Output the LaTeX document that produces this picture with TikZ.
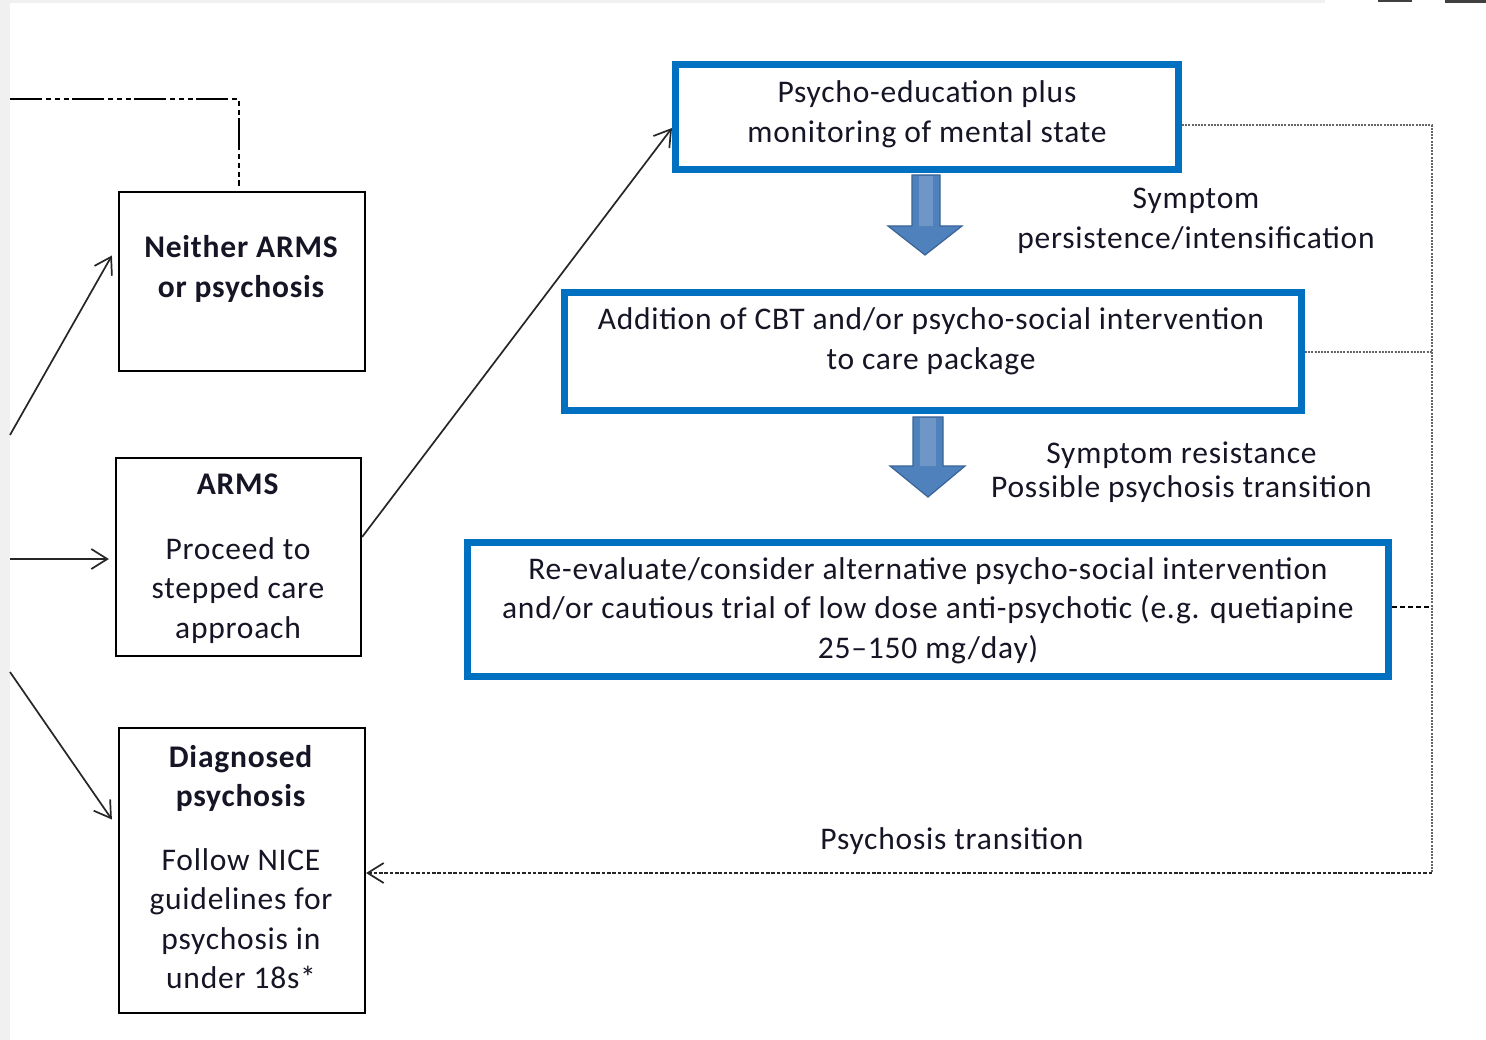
\documentclass[tikz,border=0pt]{standalone}
\usepackage{fontspec}
\setmainfont{Carlito}[LetterSpace=2.5]
\usetikzlibrary{arrows.meta}
\definecolor{boxblue}{HTML}{0070C0}
\definecolor{arrblue}{HTML}{4F81BD}
\definecolor{arredge}{HTML}{3A6496}
\definecolor{strip}{HTML}{F0F0F0}
\definecolor{txtc}{HTML}{151525}
\begin{document}
\begin{tikzpicture}[x=1pt,y=-1pt,
  blk/.style={draw=black, line width=2.2pt, inner sep=0pt},
  bbox/.style={draw=boxblue, line width=7pt, inner sep=0pt},
  txt/.style={align=center, inner sep=0pt, text=txtc, font=\fontsize{31.5}{39.5}\selectfont},
  btxt/.style={txt, font=\fontsize{31.5}{39.5}\selectfont\bfseries},
  arr/.style={draw=black!85, line width=1.7pt, -{Straight Barb[length=16pt,width=20pt,line width=1.7pt]}},
  dashdotdot/.style={draw=black, line width=2.6pt, dash pattern=on 32pt off 4pt on 5pt off 4pt on 5pt off 4pt on 5pt off 3pt},
  dotl/.style={draw=black!60, line width=1.8pt, dash pattern=on 2pt off 1.2pt},
  dashl/.style={draw=black, line width=1.7pt, dash pattern=on 5pt off 3pt},
  dasharr/.style={draw=black!85, line width=1.7pt, dash pattern=on 3.5pt off 1.8pt, -{Straight Barb[length=16pt,width=20pt,line width=1.7pt]}},
  barrow/.style={fill=arrblue, draw=arredge, line width=1.2pt, line join=miter}
]
\useasboundingbox (0,0) rectangle (1486,1040);
\fill[white] (0,0) rectangle (1486,1040);
% screen strips
\fill[strip] (0,0) rectangle (10,1040);
\fill[strip] (10,0) rectangle (1325,3);
\fill[black!75] (1378,0) rectangle (1412,2);
\fill[black!75] (1445,0) rectangle (1486,3);

% left boxes
\node[blk, minimum width=246pt, minimum height=179pt] (neither) at (242,281.5) {};
\node[blk, minimum width=245pt, minimum height=198pt] (arms) at (238.5,557) {};
\node[blk, minimum width=246pt, minimum height=285pt] (diag) at (242,870.5) {};

\node[btxt] at (241,269) {Neither ARMS\\or psychosis};
\node[txt] at (238,558.5) {\textbf{ARMS}\\[25pt]Proceed to\\stepped care\\approach};
\node[txt] at (241,867) {\textbf{Diagnosed}\\\textbf{psychosis}\\[24pt]Follow NICE\\guidelines for\\psychosis in\\under 18s*};

% blue boxes
\node[bbox, minimum width=503pt, minimum height=105pt] (box1) at (927,117) {};
\node[bbox, minimum width=737pt, minimum height=118pt] (box2) at (933,351.5) {};
\node[bbox, minimum width=921pt, minimum height=134pt] (box3) at (928,609.5) {};

\node[txt] at (927,114.5) {Psycho-education plus\\monitoring of mental state};
\node[txt] at (931,341.5) {Addition of CBT and/or psycho-social intervention\\to care package};
\node[txt] at (928,610.5) {Re-evaluate/consider alternative psycho-social intervention\\and/or cautious trial of low dose anti-psychotic (e.g. quetiapine\\25--150 mg/day)};

% labels
\node[txt] at (1196,221) {Symptom\\persistence/intensification};
\node[txt, font=\fontsize{31.5}{34}\selectfont] at (1181.5,472) {Symptom resistance\\Possible psychosis transition};
\node[txt] (pt) at (952,841) {Psychosis transition};

% block arrows
\draw[barrow] (912,175) -- (940,175) -- (940,226) -- (962,226) -- (925,255) -- (888,226) -- (912,226) -- cycle;
\draw[barrow] (913,417) -- (943,417) -- (943,466) -- (965,466) -- (928,497) -- (890,466) -- (913,466) -- cycle;
\fill[white, opacity=0.18] (919,176) rectangle (933,226);
\fill[white, opacity=0.18] (920,418) rectangle (936,466);

% left connectors
\coordinate (in1) at (10,435);
\coordinate (in2) at (10,559);
\coordinate (in3) at (10,672);
\draw[arr] (in1) -- ([shift={(-6,-26)}]neither.west);
\draw[arr] (in2) -- ([shift={(-6,2)}]arms.west);
\draw[arr] (in3) -- ([shift={(-6,-51)}]diag.west);
\draw[arr] ([yshift=20pt]arms.east) -- ([yshift=-11pt]box1.west);

% top-left dash-dot-dot line
\coordinate (tl) at (10,99);
\draw[dashdotdot] (tl) -| ([shift={(-3,-5)}]neither.north);

% right feedback lines
\coordinate (tr) at (1432,125);
\coordinate (br) at (1432,873);
\coordinate (m2) at (1432,352);
\coordinate (m3) at (1432,607);
\draw[dotl] (box1.east |- tr) -- (tr) -- (br);
\draw[dotl] (box2.east |- m2) -- (m2);
\draw[dashl] (box3.east |- m3) -- (m3);
\draw[dasharr] (br) -- (br -| diag.east);
\end{tikzpicture}
\end{document}
